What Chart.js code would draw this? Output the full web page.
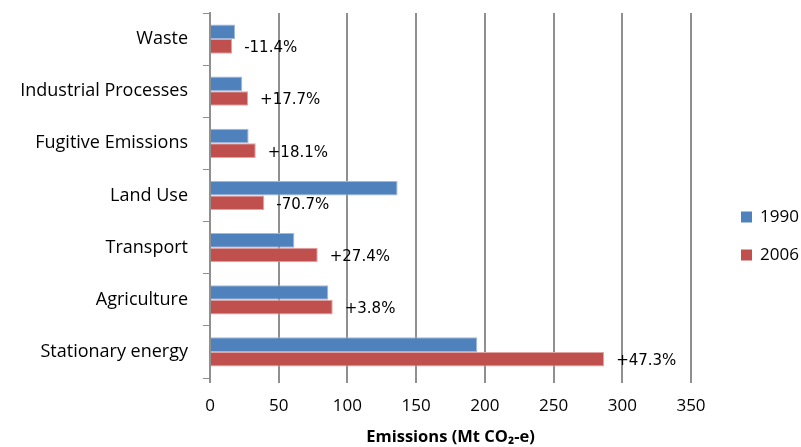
<!DOCTYPE html>
<html>
<head>
<meta charset="utf-8">
<script src="https://cdn.jsdelivr.net/npm/chart.js@4"></script>
<style>
  html, body { margin: 0; padding: 0; background: #fff; }
</style>
</head>
<body>
<canvas id="emissionsChart" width="801" height="447"></canvas>
<script>
const sectors = ["Waste", "Industrial Processes", "Fugitive Emissions", "Land Use", "Transport", "Agriculture", "Stationary energy"];
const emissions1990 = [18.2, 23.5, 28.1, 136.5, 61.4, 86.1, 194.5];
const emissions2006 = [16.1, 27.7, 33.3, 39.5, 78.4, 89.3, 286.8];
const changeLabels = ["-11.4%", "+17.7%", "+18.1%", "-70.7%", "+27.4%", "+3.8%", "+47.3%"];
const xTicks = [0, 50, 100, 150, 200, 250, 300, 350];

// percentage change written after each 2006 bar
const changeLabelPlugin = {
  id: 'changeLabels',
  afterDatasetsDraw(chart) {
    const ctx = chart.ctx;
    const meta = chart.getDatasetMeta(1);
    ctx.save();
    ctx.font = '15px "DejaVu Sans"';
    ctx.fillStyle = '#000';
    ctx.textBaseline = 'middle';
    ctx.textAlign = 'left';
    meta.data.forEach((bar, i) => {
      ctx.fillText(changeLabels[i], bar.x + 12, bar.y + 2);
    });
    ctx.restore();
  }
};

// legend on the right, placed like the original
const sideLegendPlugin = {
  id: 'sideLegend',
  afterDraw(chart) {
    const ctx = chart.ctx;
    ctx.save();
    ctx.font = '17px "Open Sans"';
    ctx.textBaseline = 'middle';
    ctx.textAlign = 'left';
    chart.data.datasets.forEach((ds, i) => {
      const y = 217 + i * 38;
      ctx.fillStyle = ds.backgroundColor;
      ctx.fillRect(741, y - 5.5, 11, 11);
      ctx.fillStyle = '#000';
      ctx.fillText(ds.label, 760, y);
    });
    ctx.restore();
  }
};

new Chart(document.getElementById("emissionsChart"), {
  type: 'bar',
  data: {
    labels: sectors,
    datasets: [
      {
        label: "1990",
        data: emissions1990,
        backgroundColor: "#4f81bd",
        borderColor: "#9fb9dc",
        borderWidth: 1
      },
      {
        label: "2006",
        data: emissions2006,
        backgroundColor: "#c0504d",
        borderColor: "#e3a3a1",
        borderWidth: 1
      }
    ]
  },
  options: {
    indexAxis: 'y',
    responsive: false,
    animation: false,
    datasets: {
      bar: { categoryPercentage: 0.56, barPercentage: 1.0 }
    },
    layout: { padding: { top: 13, left: 0, right: 110, bottom: 0 } },
    plugins: {
      tooltip: { enabled: false },
      legend: { display: false }
    },
    scales: {
      x: {
        min: xTicks[0],
        max: xTicks[xTicks.length - 1],
        afterBuildTicks: scale => { scale.ticks = xTicks.map(v => ({ value: v })); },
        afterFit: scale => { scale.height = 69; },
        grid: { color: '#8f8f8f', lineWidth: 2, tickLength: 5 },
        border: { display: false },
        ticks: {
          padding: 13,
          color: '#000',
          font: { family: '"Open Sans"', size: 17 }
        },
        title: {
          display: true,
          text: "Emissions (Mt CO\u2082-e)",
          color: '#000',
          padding: { top: 0, bottom: 0 },
          font: { family: '"Open Sans"', size: 16.5, weight: 'bold' }
        }
      },
      y: {
        afterFit: scale => {
          scale.width = 210;
          scale.paddingTop = 0;
          scale.paddingBottom = 0;
        },
        grid: { drawOnChartArea: false, drawTicks: true, tickLength: 7, color: '#8f8f8f', lineWidth: 1 },
        border: { display: true, color: '#8f8f8f', width: 2 },
        ticks: {
          padding: 15,
          color: '#000',
          font: { family: '"Open Sans"', size: 18 }
        }
      }
    }
  },
  plugins: [changeLabelPlugin, sideLegendPlugin]
});
</script>
</body>
</html>
